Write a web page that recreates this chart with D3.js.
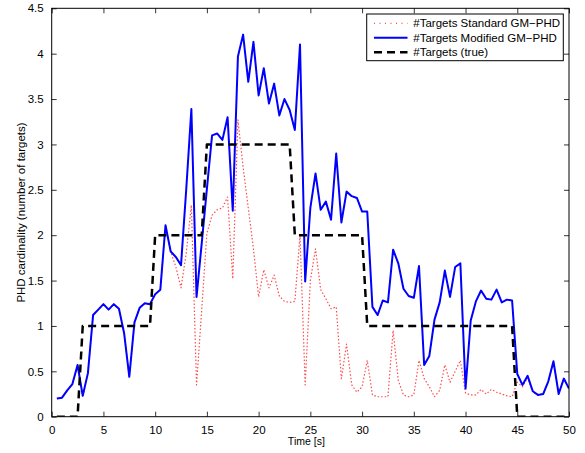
<!DOCTYPE html>
<html>
<head>
<meta charset="utf-8">
<script src="https://cdn.jsdelivr.net/npm/d3@7"></script>
<style>
  html, body { margin: 0; padding: 0; background: #fff; }
  svg { display: block; font-family: "Liberation Sans", Arial, Helvetica, sans-serif; }
</style>
</head>
<body>
<svg id="chart" width="585" height="453"></svg>
<script>
// Sample times [s]
const time = [
  0.5, 1, 1.5, 2, 2.5, 3, 3.5, 4, 4.5, 5,
  5.5, 6, 6.5, 7, 7.5, 8, 8.5, 9, 9.5, 10,
  10.5, 11, 11.5, 12, 12.5, 13, 13.5, 14, 14.5, 15,
  15.5, 16, 16.5, 17, 17.5, 18, 18.5, 19, 19.5, 20,
  20.5, 21, 21.5, 22, 22.5, 23, 23.5, 24, 24.5, 25,
  25.5, 26, 26.5, 27, 27.5, 28, 28.5, 29, 29.5, 30,
  30.5, 31, 31.5, 32, 32.5, 33, 33.5, 34, 34.5, 35,
  35.5, 36, 36.5, 37, 37.5, 38, 38.5, 39, 39.5, 40,
  40.5, 41, 41.5, 42, 42.5, 43, 43.5, 44, 44.5, 45,
  45.5, 46, 46.5, 47, 47.5, 48, 48.5, 49, 49.5, 50
];

// Estimated number of targets, standard GM-PHD filter
const standardPHD = [
  0.20, 0.21, 0.29, 0.36, 0.57, 0.23, 0.48, 1.12, 1.18, 1.24,
  1.18, 1.24, 1.19, 0.92, 0.44, 1.04, 1.20, 1.25, 1.24, 1.35,
  1.40, 2.11, 1.82, 1.65, 1.42, 1.80, 2.33, 0.35, 1.18, 2.02,
  2.22, 2.28, 2.30, 2.42, 1.52, 3.27, 2.75, 2.30, 1.85, 1.32,
  1.62, 1.42, 1.56, 1.33, 1.27, 1.26, 1.27, 2.00, 0.35, 1.50,
  1.85, 1.40, 1.30, 1.19, 1.21, 0.42, 0.80, 0.35, 0.27, 0.33,
  0.62, 0.24, 0.22, 0.22, 0.22, 0.95, 0.40, 0.24, 0.22, 0.24,
  0.62, 0.42, 0.33, 0.22, 0.29, 0.57, 0.38, 0.50, 0.62, 0.26,
  0.24, 0.24, 0.30, 0.25, 0.30, 0.27, 0.25, 0.23, 0.22, 0.38,
  0.33, 0.43, 0.27, 0.24, 0.25, 0.39, 0.61, 0.25, 0.42, 0.31
];

// Estimated number of targets, modified GM-PHD filter
const modifiedPHD = [
  0.20, 0.21, 0.29, 0.36, 0.57, 0.23, 0.48, 1.12, 1.18, 1.24,
  1.18, 1.24, 1.19, 0.92, 0.44, 1.04, 1.20, 1.25, 1.24, 1.35,
  1.40, 2.11, 1.82, 1.76, 1.67, 2.50, 3.39, 1.32, 1.91, 2.51,
  3.10, 3.12, 3.05, 3.30, 2.27, 3.97, 4.21, 3.69, 4.13, 3.54,
  3.84, 3.45, 3.67, 3.32, 3.50, 3.38, 3.16, 4.10, 1.49, 2.30,
  2.68, 2.28, 2.37, 2.17, 2.90, 2.14, 2.48, 2.43, 2.41, 2.26,
  2.26, 1.21, 1.12, 1.28, 1.26, 1.84, 1.69, 1.41, 1.33, 1.31,
  1.66, 0.57, 0.67, 1.07, 1.26, 1.61, 1.32, 1.65, 1.69, 0.31,
  1.06, 1.27, 1.39, 1.30, 1.29, 1.40, 1.26, 1.29, 1.28, 0.47,
  0.35, 0.45, 0.28, 0.24, 0.25, 0.39, 0.61, 0.25, 0.42, 0.31
];

// True number of targets
const trueCount = [
  0, 0, 0, 0, 0, 1, 1, 1, 1, 1,
  1, 1, 1, 1, 1, 1, 1, 1, 1, 2,
  2, 2, 2, 2, 2, 2, 2, 2, 2, 3,
  3, 3, 3, 3, 3, 3, 3, 3, 3, 3,
  3, 3, 3, 3, 3, 3, 2, 2, 2, 2,
  2, 2, 2, 2, 2, 2, 2, 2, 2, 2,
  1, 1, 1, 1, 1, 1, 1, 1, 1, 1,
  1, 1, 1, 1, 1, 1, 1, 1, 1, 1,
  1, 1, 1, 1, 1, 1, 1, 1, 1, 0,
  0, 0, 0, 0, 0, 0, 0, 0, 0, 0
];

const xTicks = [0, 5, 10, 15, 20, 25, 30, 35, 40, 45, 50];
const yTicks = [0, 0.5, 1, 1.5, 2, 2.5, 3, 3.5, 4, 4.5];

const legendLabels = [
  "#Targets Standard GM\u2212PHD",
  "#Targets Modified GM\u2212PHD",
  "#Targets (true)"
];

const svg = d3.select("#chart");
const plot = { left: 51.7, right: 569, top: 8.3, bottom: 416.7 };

const x = d3.scaleLinear().domain([0, 50]).range([plot.left, plot.right]);
const y = d3.scaleLinear().domain([0, 4.5]).range([plot.bottom, plot.top]);

const fmt = d => String(d);
const fontSize = "11.5px";

// Axes: ticks point inward on all four sides (box style)
function styleAxis(g) {
  g.select(".domain").remove();
  g.selectAll(".tick line").attr("stroke", "#000").attr("stroke-width", 0.8);
  g.selectAll(".tick text").attr("fill", "#000").style("font-size", fontSize);
}

svg.append("g")
  .attr("transform", `translate(0,${plot.bottom})`)
  .call(d3.axisBottom(x).tickValues(xTicks).tickFormat(fmt).tickSizeInner(-5).tickSizeOuter(0).tickPadding(9))
  .call(styleAxis);

svg.append("g")
  .attr("transform", `translate(0,${plot.top})`)
  .call(d3.axisTop(x).tickValues(xTicks).tickFormat("").tickSizeInner(-5).tickSizeOuter(0))
  .call(styleAxis);

svg.append("g")
  .attr("transform", `translate(${plot.left},0)`)
  .call(d3.axisLeft(y).tickValues(yTicks).tickFormat(fmt).tickSizeInner(-5).tickSizeOuter(0).tickPadding(8))
  .call(styleAxis);

svg.append("g")
  .attr("transform", `translate(${plot.right},0)`)
  .call(d3.axisRight(y).tickValues(yTicks).tickFormat("").tickSizeInner(-5).tickSizeOuter(0))
  .call(styleAxis);

// Series
const rows = time.map((t, i) => ({ t, s: standardPHD[i], m: modifiedPHD[i], g: trueCount[i] }));
const lineOf = key => d3.line().x(d => x(d.t)).y(d => y(d[key]));

const series = [
  { key: "s", stroke: "#ff2020", width: 1.2, dash: "1.5,2", opacity: 0.8 },
  { key: "m", stroke: "#0000ff", width: 2, dash: null, opacity: 1 },
  { key: "g", stroke: "#000000", width: 2.5, dash: "8,5", opacity: 1 }
];

svg.append("clipPath").attr("id", "plotClip")
  .append("rect")
  .attr("x", plot.left).attr("y", plot.top)
  .attr("width", plot.right - plot.left).attr("height", plot.bottom - plot.top);

const lines = svg.append("g").attr("clip-path", "url(#plotClip)");
series.forEach(s => {
  lines.append("path")
    .datum(rows)
    .attr("fill", "none")
    .attr("stroke", s.stroke)
    .attr("stroke-width", s.width)
    .attr("stroke-opacity", s.opacity)
    .attr("stroke-linejoin", "round")
    .attr("stroke-dasharray", s.dash)
    .attr("d", lineOf(s.key));
});

// Plot frame
svg.append("rect")
  .attr("x", plot.left).attr("y", plot.top)
  .attr("width", plot.right - plot.left).attr("height", plot.bottom - plot.top)
  .attr("fill", "none").attr("stroke", "#000").attr("stroke-width", 1);

// Axis titles
svg.append("text")
  .attr("x", x(25) - 4).attr("y", 445)
  .attr("text-anchor", "middle")
  .style("font-size", "10.5px")
  .text("Time [s]");

svg.append("text")
  .attr("transform", `translate(24.5,${(plot.top + plot.bottom) / 2}) rotate(-90)`)
  .attr("text-anchor", "middle")
  .style("font-size", "11.5px")
  .text("PHD cardinality (number of targets)");

// Legend
const legend = svg.append("g");
legend.append("rect")
  .attr("x", 366.7).attr("y", 14)
  .attr("width", 196.6).attr("height", 46.7)
  .attr("fill", "#fff").attr("stroke", "#000").attr("stroke-width", 1);

const legendY = [23.3, 37.7, 52.3];
series.forEach((s, i) => {
  legend.append("line")
    .attr("x1", 374).attr("x2", 407.5)
    .attr("y1", legendY[i]).attr("y2", legendY[i])
    .attr("stroke", s.stroke)
    .attr("stroke-width", s.width)
    .attr("stroke-opacity", s.opacity)
    .attr("stroke-dasharray", s.key === "s" ? "1,4.5" : s.dash);
  legend.append("text")
    .attr("x", 413.3).attr("y", legendY[i])
    .attr("dy", "0.36em")
    .style("font-size", fontSize)
    .text(legendLabels[i]);
});
</script>
</body>
</html>
